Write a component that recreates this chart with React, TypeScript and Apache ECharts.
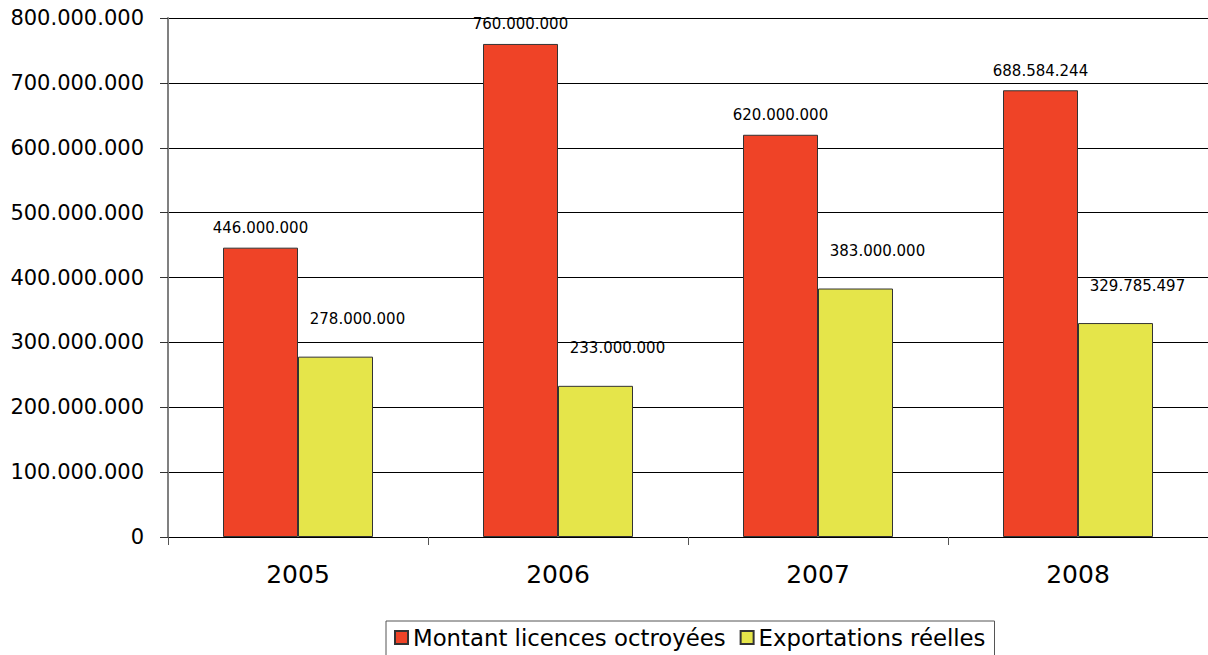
import React, { useEffect, useRef } from "react";
import * as echarts from "echarts";

const categories = ["2005", "2006", "2007", "2008"];
const licences = [446000000, 760000000, 620000000, 688584244];
const exportations = [278000000, 233000000, 383000000, 329785497];
const seriesNames = ["Montant licences octroyées", "Exportations réelles"];

const fmt = (v: number) => String(Math.round(v)).replace(/\B(?=(\d{3})+(?!\d))/g, ".");

export default function App() {
  const ref = useRef<HTMLDivElement>(null);
  useEffect(() => {
    document.body.style.margin = "0";
    const chart = echarts.init(ref.current!, null, { renderer: "svg" });
    const font = "Verdana, 'DejaVu Sans', sans-serif";
    chart.setOption({
      animation: false,
      textStyle: { fontFamily: font },
      grid: { left: 168, right: 0, top: 18, bottom: 118, containLabel: false },
      legend: {
        top: 621,
        left: 386,
        itemWidth: 13,
        itemHeight: 13,
        itemGap: 14,
        icon: "rect",
        borderColor: "#555",
        borderWidth: 1,
        padding: [5, 9, 12, 8],
        textStyle: { fontSize: 22.8, color: "#000", fontFamily: font, padding: [0, 0, 0, 0] },
        data: seriesNames,
      },
      xAxis: {
        type: "category",
        data: categories,
        axisLine: { lineStyle: { color: "#000", width: 1 } },
        axisTick: { show: true, length: 8, lineStyle: { color: "#555" } },
        axisLabel: { fontSize: 25, color: "#000", margin: 25, fontFamily: font },
      },
      yAxis: {
        type: "value",
        min: 0,
        max: 800000000,
        interval: 100000000,
        axisLine: { show: true, lineStyle: { color: "#808080", width: 2 } },
        axisTick: { show: true, length: 8, lineStyle: { color: "#333" } },
        splitLine: { lineStyle: { color: "#000", width: 1 } },
        axisLabel: { fontSize: 21, color: "#000", margin: 24, formatter: (v: number) => fmt(v), fontFamily: font },
      },
      series: [
        {
          name: seriesNames[0],
          type: "bar",
          data: licences,
          barWidth: 75,
          barGap: "0%",
          itemStyle: { color: "#EF4327", borderColor: "#333", borderWidth: 1 },
          label: {
            show: true,
            position: "top",
            distance: 12,
            fontSize: 15,
            color: "#000",
            fontFamily: font,
            formatter: (p: any) => fmt(p.value),
          },
        },
        {
          name: seriesNames[1],
          type: "bar",
          data: exportations,
          barWidth: 75,
          itemStyle: { color: "#E5E54A", borderColor: "#333", borderWidth: 1 },
          label: {
            show: true,
            position: "top",
            distance: 12,
            offset: [22, -18],
            fontSize: 15,
            color: "#000",
            fontFamily: font,
            formatter: (p: any) => fmt(p.value),
          },
        },
      ],
    });
    return () => chart.dispose();
  }, []);
  return <div ref={ref} style={{ position: "fixed", left: 0, top: 0, width: 1208, height: 655, background: "#fff" }} />;
}
